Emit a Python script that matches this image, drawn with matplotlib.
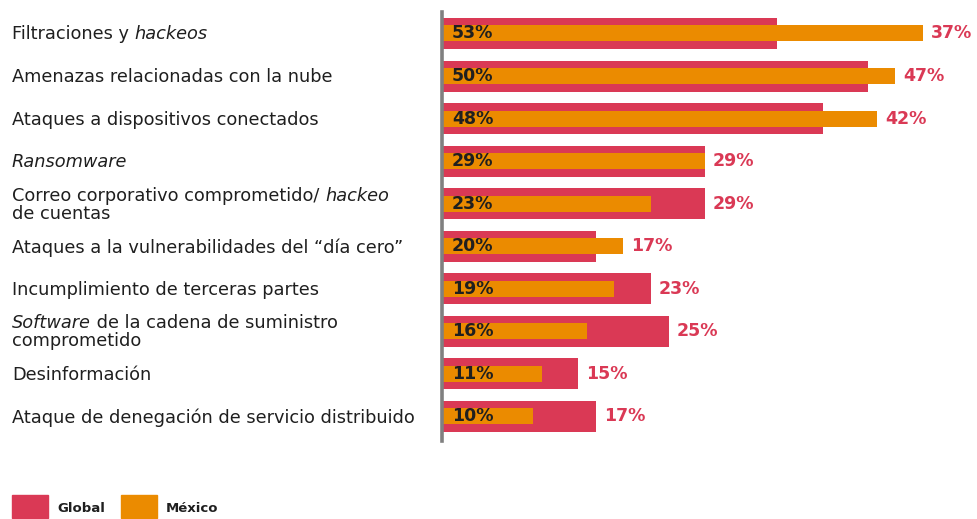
import matplotlib.pyplot as plt
import numpy as np

# data
categories = [
    [("Filtraciones y ", "normal"), ("hackeos", "italic")],
    [("Amenazas relacionadas con la nube", "normal")],
    [("Ataques a dispositivos conectados", "normal")],
    [("Ransomware", "italic")],
    [("Correo corporativo comprometido/ ", "normal"), ("hackeo", "italic"), ("\nde cuentas", "normal")],
    [("Ataques a la vulnerabilidades del \u201cd\u00eda cero\u201d", "normal")],
    [("Incumplimiento de terceras partes", "normal")],
    [("Software", "italic"), (" de la cadena de suministro\ncomprometido", "normal")],
    [("Desinformaci\u00f3n", "normal")],
    [("Ataque de denegaci\u00f3n de servicio distribuido", "normal")],
]
global_vals = [37, 47, 42, 29, 29, 17, 23, 25, 15, 17]
mexico_vals = [53, 50, 48, 29, 23, 20, 19, 16, 11, 10]

PINK = "#da3955"
ORANGE = "#eb8b00"
DARK = "#1f1f1f"

plt.rcParams['font.family'] = ['DejaVu Sans']

fig = plt.figure(figsize=(9.78, 5.19), dpi=100)
W, H = 978, 519
ax = fig.add_axes([442 / W, 1 - 441 / H, (W - 442) / W, (441 - 12) / H])

y = np.arange(len(categories))
ax.barh(y, global_vals, height=0.728, color=PINK, zorder=2)
ax.barh(y, mexico_vals, height=0.376, color=ORANGE, zorder=3)

ax.set_xlim(0, (W - 443) / 9.05)
ax.set_ylim(9.576, -0.505)
for s in ["top", "right", "bottom"]:
    ax.spines[s].set_visible(False)
ax.spines["left"].set_color("#808080")
ax.spines["left"].set_linewidth(2.6)
ax.spines["left"].set_zorder(5)
ax.set_xticks([])
ax.set_yticks([])

# value labels
for i, (g, m) in enumerate(zip(global_vals, mexico_vals)):
    ax.annotate(f"{m}%", (0, i), xytext=(10, 0), textcoords="offset pixels",
                va="center", ha="left", fontsize=12.5, fontweight="bold", color=DARK, zorder=6)
    ax.annotate(f"{g}%", (max(g, m), i), xytext=(8, 0), textcoords="offset pixels",
                va="center", ha="left", fontsize=12.5, fontweight="bold", color=PINK, zorder=6)

# category labels with mixed italic segments
fig.canvas.draw()
renderer = fig.canvas.get_renderer()
line_h = 18
for i, segs in enumerate(categories):
    full = "".join(t for t, _ in segs)
    nlines = full.count("\n") + 1
    yc = ax.transData.transform((0, i))[1] + 1
    top_line_y = yc + (nlines - 1) * line_h / 2
    x = 12
    line = 0
    for text, style in segs:
        parts = text.split("\n")
        for k, p in enumerate(parts):
            if k > 0:
                line += 1
                x = 12
            if not p:
                continue
            t = fig.text(x / W, (top_line_y - line * line_h) / H, p, fontsize=12.8,
                         fontstyle=style, color=DARK, va="center_baseline", ha="left")
            bb = t.get_window_extent(renderer)
            x += bb.width

# legend
for x0, col, lab in [(12, PINK, "Global"), (121, ORANGE, "M\u00e9xico")]:
    fig.patches.append(plt.Rectangle((x0 / W, 1 - 518 / H), 36 / W, 23 / H,
                                     transform=fig.transFigure, color=col))
    fig.text((x0 + 45) / W, 1 - 508 / H, lab, fontsize=9.5, fontweight="bold",
             color=DARK, va="center", ha="left")

fig.savefig("out.png", dpi=100)
